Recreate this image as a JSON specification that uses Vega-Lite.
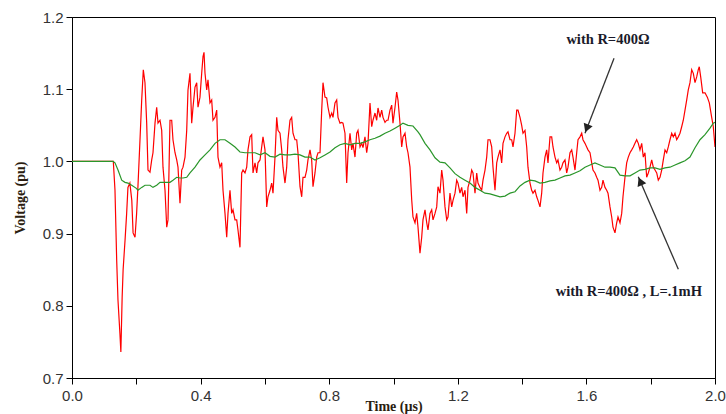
{
  "$schema": "https://vega.github.io/schema/vega-lite/v6.json",
  "width": 643,
  "height": 361,
  "autosize": {"type": "none"},
  "padding": {"left": 72, "top": 17, "right": 11, "bottom": 36},
  "background": "white",
  "config": {
    "view": {"stroke": "#000000", "strokeWidth": 1},
    "axis": {"grid": false, "domainColor": "#000000", "tickColor": "#000000", "labelFont": "Liberation Sans", "labelFontSize": 15, "labelColor": "#333333", "titleFont": "Liberation Serif", "titleFontWeight": "bold", "titleFontSize": 14, "titleColor": "#2b1d10", "labelOverlap": false, "labelFlush": false, "tickSize": 6}
  },
  "datasets": {
    "red": [
      {"t": 0, "v": 1.0}, {"t": 0.1285, "v": 1.0}, {"t": 0.1337, "v": 0.96}, {"t": 0.139, "v": 0.863}, {"t": 0.143, "v": 0.808}, {"t": 0.149, "v": 0.762}, {"t": 0.152, "v": 0.736}, {"t": 0.156, "v": 0.812}, {"t": 0.159, "v": 0.85}, {"t": 0.165, "v": 0.891}, {"t": 0.17, "v": 0.928}, {"t": 0.174, "v": 0.964}, {"t": 0.18, "v": 0.97}, {"t": 0.186, "v": 0.946}, {"t": 0.19, "v": 0.901}, {"t": 0.196, "v": 0.895}, {"t": 0.201, "v": 0.928}, {"t": 0.205, "v": 0.964},
      {"t": 0.2115, "v": 1.03}, {"t": 0.2168, "v": 1.085}, {"t": 0.2218, "v": 1.127}, {"t": 0.227, "v": 1.109}, {"t": 0.2323, "v": 1.053}, {"t": 0.2364, "v": 0.988}, {"t": 0.2426, "v": 0.985}, {"t": 0.2479, "v": 1.002}, {"t": 0.2519, "v": 1.012}, {"t": 0.2582, "v": 1.053}, {"t": 0.2634, "v": 1.075}, {"t": 0.2675, "v": 1.053}, {"t": 0.2737, "v": 1.057}, {"t": 0.279, "v": 1.043}, {"t": 0.283, "v": 0.992}, {"t": 0.2893, "v": 0.96}, {"t": 0.2946, "v": 0.909}, {"t": 0.2986, "v": 0.919},
      {"t": 0.3048, "v": 1.057}, {"t": 0.3101, "v": 1.057}, {"t": 0.3141, "v": 1.03}, {"t": 0.3204, "v": 1.012}, {"t": 0.3257, "v": 1.002}, {"t": 0.3297, "v": 0.992}, {"t": 0.3359, "v": 0.942}, {"t": 0.3412, "v": 0.988}, {"t": 0.3453, "v": 0.992}, {"t": 0.3515, "v": 1.006}, {"t": 0.3568, "v": 1.043}, {"t": 0.3608, "v": 1.099}, {"t": 0.367, "v": 1.122}, {"t": 0.3723, "v": 1.053}, {"t": 0.3764, "v": 1.075}, {"t": 0.3826, "v": 1.103}, {"t": 0.3879, "v": 1.109}, {"t": 0.3919, "v": 1.075}, {"t": 0.3981, "v": 1.089},
      {"t": 0.4034, "v": 1.122}, {"t": 0.4075, "v": 1.145}, {"t": 0.4106, "v": 1.151}, {"t": 0.4137, "v": 1.122}, {"t": 0.419, "v": 1.099}, {"t": 0.423, "v": 1.113}, {"t": 0.4292, "v": 1.081}, {"t": 0.4345, "v": 1.085}, {"t": 0.4386, "v": 1.057}, {"t": 0.4448, "v": 1.061}, {"t": 0.4501, "v": 1.071}, {"t": 0.4541, "v": 1.006}, {"t": 0.4603, "v": 0.992}, {"t": 0.4656, "v": 0.998}, {"t": 0.4697, "v": 0.96}, {"t": 0.4759, "v": 0.928}, {"t": 0.4812, "v": 0.895}, {"t": 0.4852, "v": 0.928}, {"t": 0.4914, "v": 0.96}, {"t": 0.4967, "v": 0.928},
      {"t": 0.5008, "v": 0.933}, {"t": 0.507, "v": 0.919}, {"t": 0.5123, "v": 0.919}, {"t": 0.5163, "v": 0.905}, {"t": 0.5225, "v": 0.881}, {"t": 0.5278, "v": 0.984}, {"t": 0.5319, "v": 0.988}, {"t": 0.5381, "v": 0.984}, {"t": 0.5434, "v": 0.992}, {"t": 0.5474, "v": 1.016}, {"t": 0.5537, "v": 1.034}, {"t": 0.5589, "v": 1.037}, {"t": 0.563, "v": 0.984}, {"t": 0.5692, "v": 0.998}, {"t": 0.5745, "v": 0.984}, {"t": 0.5785, "v": 0.998}, {"t": 0.5848, "v": 1.002}, {"t": 0.59, "v": 1.02}, {"t": 0.5941, "v": 1.034},
      {"t": 0.6003, "v": 1.016}, {"t": 0.6056, "v": 0.937}, {"t": 0.6096, "v": 0.951}, {"t": 0.6159, "v": 0.96}, {"t": 0.6211, "v": 0.97}, {"t": 0.6252, "v": 0.956}, {"t": 0.6314, "v": 1.006}, {"t": 0.6367, "v": 1.061}, {"t": 0.6407, "v": 1.043}, {"t": 0.647, "v": 1.039}, {"t": 0.6522, "v": 1.016}, {"t": 0.6563, "v": 0.992}, {"t": 0.6625, "v": 0.97}, {"t": 0.6678, "v": 0.992}, {"t": 0.6718, "v": 1.03}, {"t": 0.6781, "v": 1.057}, {"t": 0.6833, "v": 1.061}, {"t": 0.6874, "v": 1.039}, {"t": 0.6936, "v": 1.03}, {"t": 0.6989, "v": 1.03},
      {"t": 0.7029, "v": 1.012}, {"t": 0.7092, "v": 0.965}, {"t": 0.7145, "v": 0.951}, {"t": 0.7185, "v": 0.978}, {"t": 0.7247, "v": 0.978}, {"t": 0.73, "v": 0.988}, {"t": 0.734, "v": 1.002}, {"t": 0.7403, "v": 1.016}, {"t": 0.7455, "v": 1.002}, {"t": 0.7496, "v": 0.965}, {"t": 0.7558, "v": 0.984}, {"t": 0.7611, "v": 1.006}, {"t": 0.7652, "v": 1.012}, {"t": 0.7714, "v": 1.012}, {"t": 0.7767, "v": 1.071}, {"t": 0.7807, "v": 1.109}, {"t": 0.7869, "v": 1.089}, {"t": 0.7922, "v": 1.088}, {"t": 0.7963, "v": 1.075},
      {"t": 0.8025, "v": 1.061}, {"t": 0.8078, "v": 1.067}, {"t": 0.8118, "v": 1.061}, {"t": 0.818, "v": 1.081}, {"t": 0.8233, "v": 1.085}, {"t": 0.8274, "v": 1.061}, {"t": 0.8336, "v": 1.053}, {"t": 0.8389, "v": 1.054}, {"t": 0.8429, "v": 1.053}, {"t": 0.8491, "v": 1.039}, {"t": 0.8544, "v": 0.97}, {"t": 0.8585, "v": 1.012}, {"t": 0.8647, "v": 1.039}, {"t": 0.87, "v": 1.016}, {"t": 0.874, "v": 1.025}, {"t": 0.8802, "v": 1.006}, {"t": 0.8855, "v": 1.039}, {"t": 0.8896, "v": 1.043}, {"t": 0.8958, "v": 1.02},
      {"t": 0.9011, "v": 1.025}, {"t": 0.9051, "v": 1.019}, {"t": 0.9113, "v": 1.034}, {"t": 0.9166, "v": 1.012}, {"t": 0.9207, "v": 1.025}, {"t": 0.9269, "v": 1.081}, {"t": 0.9322, "v": 1.048}, {"t": 0.9362, "v": 1.057}, {"t": 0.9424, "v": 1.067}, {"t": 0.9477, "v": 1.057}, {"t": 0.9518, "v": 1.074}, {"t": 0.958, "v": 1.061}, {"t": 0.9633, "v": 1.071}, {"t": 0.9673, "v": 1.061}, {"t": 0.9736, "v": 1.054}, {"t": 0.9788, "v": 1.057}, {"t": 0.9829, "v": 1.057}, {"t": 0.9891, "v": 1.071}, {"t": 0.9944, "v": 1.078}, {"t": 0.9984, "v": 1.053},
      {"t": 1.0047, "v": 1.075}, {"t": 1.0099, "v": 1.096}, {"t": 1.014, "v": 1.085}, {"t": 1.0202, "v": 1.053}, {"t": 1.0255, "v": 1.02}, {"t": 1.0295, "v": 1.034}, {"t": 1.0358, "v": 1.039}, {"t": 1.041, "v": 1.02}, {"t": 1.0451, "v": 1.012}, {"t": 1.0513, "v": 0.992}, {"t": 1.0566, "v": 0.947}, {"t": 1.0606, "v": 0.923}, {"t": 1.0669, "v": 0.915}, {"t": 1.0721, "v": 0.928}, {"t": 1.0762, "v": 0.909}, {"t": 1.0824, "v": 0.873}, {"t": 1.0877, "v": 0.895}, {"t": 1.0917, "v": 0.919}, {"t": 1.098, "v": 0.933},
      {"t": 1.1033, "v": 0.915}, {"t": 1.1073, "v": 0.905}, {"t": 1.1135, "v": 0.928}, {"t": 1.1188, "v": 0.933}, {"t": 1.1229, "v": 0.919}, {"t": 1.1291, "v": 0.928}, {"t": 1.1344, "v": 0.937}, {"t": 1.1384, "v": 0.965}, {"t": 1.1446, "v": 0.956}, {"t": 1.1499, "v": 0.988}, {"t": 1.154, "v": 0.974}, {"t": 1.1602, "v": 0.937}, {"t": 1.1655, "v": 0.919}, {"t": 1.1695, "v": 0.923}, {"t": 1.1757, "v": 0.956}, {"t": 1.181, "v": 0.937}, {"t": 1.1851, "v": 0.946}, {"t": 1.1913, "v": 0.956}, {"t": 1.1966, "v": 0.974},
      {"t": 1.2006, "v": 0.97}, {"t": 1.2068, "v": 0.956}, {"t": 1.2121, "v": 0.964}, {"t": 1.2162, "v": 0.951}, {"t": 1.2224, "v": 0.96}, {"t": 1.2277, "v": 0.928}, {"t": 1.2317, "v": 0.964}, {"t": 1.2379, "v": 0.974}, {"t": 1.2432, "v": 0.988}, {"t": 1.2473, "v": 0.984}, {"t": 1.2535, "v": 0.956}, {"t": 1.2588, "v": 0.984}, {"t": 1.2628, "v": 0.97}, {"t": 1.2691, "v": 0.964}, {"t": 1.2743, "v": 0.96}, {"t": 1.2784, "v": 0.974}, {"t": 1.2846, "v": 0.988}, {"t": 1.2899, "v": 1.006}, {"t": 1.2939, "v": 1.03},
      {"t": 1.3001, "v": 1.03}, {"t": 1.3054, "v": 1.02}, {"t": 1.3095, "v": 0.992}, {"t": 1.3157, "v": 0.96}, {"t": 1.321, "v": 0.998}, {"t": 1.325, "v": 1.006}, {"t": 1.3313, "v": 1.016}, {"t": 1.3365, "v": 0.998}, {"t": 1.3406, "v": 1.025}, {"t": 1.3468, "v": 1.034}, {"t": 1.3521, "v": 1.039}, {"t": 1.3561, "v": 1.041}, {"t": 1.3624, "v": 1.03}, {"t": 1.3676, "v": 1.03}, {"t": 1.3717, "v": 1.02}, {"t": 1.3779, "v": 1.039}, {"t": 1.3832, "v": 1.071}, {"t": 1.3872, "v": 1.071}, {"t": 1.3935, "v": 1.061}, {"t": 1.3987, "v": 1.05},
      {"t": 1.4028, "v": 1.039}, {"t": 1.409, "v": 1.043}, {"t": 1.4143, "v": 1.02}, {"t": 1.4183, "v": 0.992}, {"t": 1.4246, "v": 0.97}, {"t": 1.4298, "v": 0.96}, {"t": 1.4339, "v": 0.956}, {"t": 1.4401, "v": 0.96}, {"t": 1.4454, "v": 0.951}, {"t": 1.4494, "v": 0.946}, {"t": 1.4557, "v": 0.937}, {"t": 1.4609, "v": 0.956}, {"t": 1.465, "v": 0.984}, {"t": 1.4712, "v": 1.006}, {"t": 1.4765, "v": 1.016}, {"t": 1.4805, "v": 0.998}, {"t": 1.4868, "v": 1.034}, {"t": 1.492, "v": 1.034}, {"t": 1.4961, "v": 1.02},
      {"t": 1.5023, "v": 1.006}, {"t": 1.5076, "v": 0.998}, {"t": 1.5116, "v": 1.002}, {"t": 1.5179, "v": 0.988}, {"t": 1.5231, "v": 0.992}, {"t": 1.5272, "v": 0.998}, {"t": 1.5334, "v": 1.002}, {"t": 1.5387, "v": 0.984}, {"t": 1.5428, "v": 0.992}, {"t": 1.549, "v": 1.012}, {"t": 1.5543, "v": 1.016}, {"t": 1.5583, "v": 1.006}, {"t": 1.5645, "v": 0.988}, {"t": 1.5698, "v": 1.012}, {"t": 1.5739, "v": 1.03}, {"t": 1.5801, "v": 1.034}, {"t": 1.5854, "v": 1.039}, {"t": 1.5894, "v": 1.03}, {"t": 1.5956, "v": 1.025},
      {"t": 1.6009, "v": 1.02}, {"t": 1.605, "v": 1.016}, {"t": 1.6112, "v": 1.012}, {"t": 1.6165, "v": 0.998}, {"t": 1.6205, "v": 0.988}, {"t": 1.6267, "v": 0.984}, {"t": 1.632, "v": 0.978}, {"t": 1.6361, "v": 0.974}, {"t": 1.6423, "v": 0.96}, {"t": 1.6476, "v": 0.964}, {"t": 1.6516, "v": 0.974}, {"t": 1.6578, "v": 0.964}, {"t": 1.6631, "v": 0.96}, {"t": 1.6672, "v": 0.956}, {"t": 1.6734, "v": 0.937}, {"t": 1.6787, "v": 0.923}, {"t": 1.6827, "v": 0.909}, {"t": 1.6889, "v": 0.901}, {"t": 1.6942, "v": 0.915}, {"t": 1.6983, "v": 0.923},
      {"t": 1.7045, "v": 0.915}, {"t": 1.7098, "v": 0.928}, {"t": 1.7138, "v": 0.951}, {"t": 1.72, "v": 0.978}, {"t": 1.7253, "v": 0.998}, {"t": 1.7303, "v": 1.006}, {"t": 1.7356, "v": 1.012}, {"t": 1.7409, "v": 1.016}, {"t": 1.7459, "v": 1.02}, {"t": 1.7511, "v": 1.025}, {"t": 1.7564, "v": 1.03}, {"t": 1.7614, "v": 1.025}, {"t": 1.7667, "v": 1.016}, {"t": 1.772, "v": 1.025}, {"t": 1.777, "v": 1.006}, {"t": 1.7822, "v": 1.012}, {"t": 1.7875, "v": 0.978}, {"t": 1.7925, "v": 0.984}, {"t": 1.7978, "v": 0.992},
      {"t": 1.8031, "v": 1.002}, {"t": 1.8081, "v": 0.992}, {"t": 1.8134, "v": 0.988}, {"t": 1.8187, "v": 0.984}, {"t": 1.8236, "v": 0.974}, {"t": 1.8289, "v": 0.978}, {"t": 1.8342, "v": 0.988}, {"t": 1.8392, "v": 1.002}, {"t": 1.8445, "v": 1.016}, {"t": 1.8498, "v": 1.012}, {"t": 1.8547, "v": 1.02}, {"t": 1.86, "v": 1.03}, {"t": 1.8653, "v": 1.039}, {"t": 1.8703, "v": 1.034}, {"t": 1.8756, "v": 1.039}, {"t": 1.8808, "v": 1.03}, {"t": 1.8858, "v": 1.034}, {"t": 1.8911, "v": 1.039}, {"t": 1.8964, "v": 1.048},
      {"t": 1.9014, "v": 1.057}, {"t": 1.9067, "v": 1.071}, {"t": 1.9119, "v": 1.085}, {"t": 1.9169, "v": 1.099}, {"t": 1.9222, "v": 1.109}, {"t": 1.9275, "v": 1.127}, {"t": 1.9325, "v": 1.122}, {"t": 1.9378, "v": 1.109}, {"t": 1.9431, "v": 1.117}, {"t": 1.948, "v": 1.127}, {"t": 1.9511, "v": 1.131}, {"t": 1.9555, "v": 1.117}, {"t": 1.9617, "v": 1.095}, {"t": 1.9689, "v": 1.095}, {"t": 1.9761, "v": 1.089}, {"t": 1.9823, "v": 1.081}, {"t": 1.9897, "v": 1.061}, {"t": 1.9947, "v": 1.048}, {"t": 2.0, "v": 1.02}
    ],
    "green": [
      {"t": 0, "v": 1.0}, {"t": 0.1275, "v": 1.0}, {"t": 0.1337, "v": 0.998}, {"t": 0.1431, "v": 0.988}, {"t": 0.1546, "v": 0.974}, {"t": 0.1648, "v": 0.971}, {"t": 0.1742, "v": 0.97}, {"t": 0.1857, "v": 0.967}, {"t": 0.1991, "v": 0.963}, {"t": 0.2053, "v": 0.96}, {"t": 0.2168, "v": 0.964}, {"t": 0.2271, "v": 0.967}, {"t": 0.2426, "v": 0.967}, {"t": 0.2519, "v": 0.964}, {"t": 0.2634, "v": 0.967}, {"t": 0.2737, "v": 0.971}, {"t": 0.2893, "v": 0.971}, {"t": 0.3048, "v": 0.971}, {"t": 0.3141, "v": 0.974}, {"t": 0.3257, "v": 0.978}, {"t": 0.3359, "v": 0.977}, {"t": 0.3453, "v": 0.977}, {"t": 0.3568, "v": 0.978}, {"t": 0.367, "v": 0.984}, {"t": 0.3826, "v": 0.992}, {"t": 0.3981, "v": 1.002}, {"t": 0.4137, "v": 1.009}, {"t": 0.4292, "v": 1.016}, {"t": 0.4448, "v": 1.025}, {"t": 0.4603, "v": 1.03}, {"t": 0.4759, "v": 1.03}, {"t": 0.4914, "v": 1.025}, {"t": 0.507, "v": 1.02}, {"t": 0.5225, "v": 1.013}, {"t": 0.5381, "v": 1.012}, {"t": 0.5537, "v": 1.012}, {"t": 0.5692, "v": 1.012}, {"t": 0.5848, "v": 1.009}, {"t": 0.6003, "v": 1.012}, {"t": 0.6159, "v": 1.007}, {"t": 0.6314, "v": 1.006}, {"t": 0.647, "v": 1.01}, {"t": 0.6625, "v": 1.009}, {"t": 0.6781, "v": 1.009}, {"t": 0.6936, "v": 1.01}, {"t": 0.7092, "v": 1.009}, {"t": 0.7247, "v": 1.006}, {"t": 0.7403, "v": 1.006}, {"t": 0.7558, "v": 1.002}, {"t": 0.7714, "v": 1.005}, {"t": 0.7869, "v": 1.009}, {"t": 0.8025, "v": 1.013}, {"t": 0.818, "v": 1.019}, {"t": 0.8336, "v": 1.023}, {"t": 0.8491, "v": 1.025}, {"t": 0.8647, "v": 1.023}, {"t": 0.8802, "v": 1.025}, {"t": 0.8958, "v": 1.025}, {"t": 0.9113, "v": 1.027}, {"t": 0.9269, "v": 1.03}, {"t": 0.9424, "v": 1.032}, {"t": 0.958, "v": 1.035}, {"t": 0.9736, "v": 1.039}, {"t": 0.9891, "v": 1.042}, {"t": 1.0047, "v": 1.046}, {"t": 1.0202, "v": 1.05}, {"t": 1.0295, "v": 1.053}, {"t": 1.0451, "v": 1.05}, {"t": 1.0606, "v": 1.049}, {"t": 1.0762, "v": 1.041}, {"t": 1.0824, "v": 1.037}, {"t": 1.098, "v": 1.025}, {"t": 1.1135, "v": 1.016}, {"t": 1.1291, "v": 1.005}, {"t": 1.1446, "v": 0.999}, {"t": 1.1602, "v": 0.998}, {"t": 1.1757, "v": 0.991}, {"t": 1.1913, "v": 0.983}, {"t": 1.2068, "v": 0.978}, {"t": 1.2224, "v": 0.974}, {"t": 1.2379, "v": 0.97}, {"t": 1.2535, "v": 0.964}, {"t": 1.2691, "v": 0.96}, {"t": 1.2846, "v": 0.956}, {"t": 1.3001, "v": 0.955}, {"t": 1.3157, "v": 0.953}, {"t": 1.3313, "v": 0.951}, {"t": 1.3468, "v": 0.952}, {"t": 1.3624, "v": 0.956}, {"t": 1.3779, "v": 0.958}, {"t": 1.3935, "v": 0.966}, {"t": 1.409, "v": 0.971}, {"t": 1.4246, "v": 0.974}, {"t": 1.4401, "v": 0.973}, {"t": 1.4557, "v": 0.97}, {"t": 1.4712, "v": 0.971}, {"t": 1.4868, "v": 0.973}, {"t": 1.5023, "v": 0.974}, {"t": 1.5179, "v": 0.977}, {"t": 1.5334, "v": 0.98}, {"t": 1.549, "v": 0.981}, {"t": 1.5645, "v": 0.984}, {"t": 1.5801, "v": 0.987}, {"t": 1.5956, "v": 0.992}, {"t": 1.6112, "v": 0.995}, {"t": 1.6267, "v": 0.998}, {"t": 1.6423, "v": 0.995}, {"t": 1.6578, "v": 0.992}, {"t": 1.6734, "v": 0.992}, {"t": 1.6889, "v": 0.991}, {"t": 1.7045, "v": 0.981}, {"t": 1.72, "v": 0.98}, {"t": 1.7356, "v": 0.98}, {"t": 1.7511, "v": 0.984}, {"t": 1.7667, "v": 0.988}, {"t": 1.7822, "v": 0.989}, {"t": 1.7978, "v": 0.991}, {"t": 1.8134, "v": 0.991}, {"t": 1.8289, "v": 0.989}, {"t": 1.8445, "v": 0.991}, {"t": 1.86, "v": 0.992}, {"t": 1.8756, "v": 0.995}, {"t": 1.8911, "v": 0.998}, {"t": 1.9067, "v": 1.001}, {"t": 1.9222, "v": 1.006}, {"t": 1.9378, "v": 1.019}, {"t": 1.9533, "v": 1.03}, {"t": 1.9689, "v": 1.037}, {"t": 1.9844, "v": 1.046}, {"t": 1.9947, "v": 1.053}, {"t": 2.0, "v": 1.054}
    ],
    "arrows": [
      {"t": 1.686, "v": 1.143, "t2": 1.5956, "v2": 1.039},
      {"t": 1.886, "v": 0.8505, "t2": 1.7614, "v2": 0.9788}
    ],
    "heads": [
      {"t": 1.601, "v": 1.0458, "dir": 201},
      {"t": 1.7676, "v": 0.9724, "dir": 336}
    ],
    "notes": [
      {"t": 1.667, "v": 1.168, "label": "with R=400Ω"},
      {"t": 1.732, "v": 0.8195, "label": "with R=400Ω , L=.1mH"}
    ]
  },
  "layer": [
    {
      "data": {"name": "red"},
      "mark": {"type": "line", "color": "#ff0000", "strokeWidth": 1.2, "clip": true},
      "encoding": {
        "x": {"field": "t", "type": "quantitative", "scale": {"domain": [0, 2], "nice": false, "zero": false},
          "axis": {"title": "Time (µs)", "values": [0, 0.2, 0.4, 0.6, 0.8, 1.0, 1.2, 1.4, 1.6, 1.8, 2.0], "labelExpr": "round(datum.value * 10) % 4 == 0 ? format(datum.value, '.1f') : ''", "labelPadding": 4, "titlePadding": -4}},
        "y": {"field": "v", "type": "quantitative", "scale": {"domain": [0.7, 1.2], "nice": false, "zero": false},
          "axis": {"title": "Voltage (pu)", "values": [0.7, 0.75, 0.8, 0.85, 0.9, 0.95, 1.0, 1.05, 1.1, 1.15, 1.2], "labelExpr": "round(datum.value * 100) % 10 == 0 ? format(datum.value, '.1f') : ''", "labelPadding": 3, "titlePadding": 15}}
      }
    },
    {
      "data": {"name": "green"},
      "mark": {"type": "line", "color": "#2a962a", "strokeWidth": 1.2, "clip": true},
      "encoding": {
        "x": {"field": "t", "type": "quantitative"},
        "y": {"field": "v", "type": "quantitative"}
      }
    },
    {
      "data": {"name": "arrows"},
      "mark": {"type": "rule", "color": "#333333", "strokeWidth": 1.3},
      "encoding": {
        "x": {"field": "t", "type": "quantitative"},
        "y": {"field": "v", "type": "quantitative"},
        "x2": {"field": "t2"},
        "y2": {"field": "v2"}
      }
    },
    {
      "data": {"name": "heads"},
      "mark": {"type": "point", "shape": "triangle-up", "filled": true, "color": "#222222", "size": 90, "opacity": 1},
      "encoding": {
        "x": {"field": "t", "type": "quantitative"},
        "y": {"field": "v", "type": "quantitative"},
        "angle": {"field": "dir", "type": "quantitative", "scale": null}
      }
    },
    {
      "data": {"name": "notes"},
      "mark": {"type": "text", "font": "Liberation Serif", "fontWeight": "bold", "fontSize": 14.5, "color": "#1a1a2a", "align": "center", "baseline": "middle"},
      "encoding": {
        "x": {"field": "t", "type": "quantitative"},
        "y": {"field": "v", "type": "quantitative"},
        "text": {"field": "label"}
      }
    }
  ]
}
